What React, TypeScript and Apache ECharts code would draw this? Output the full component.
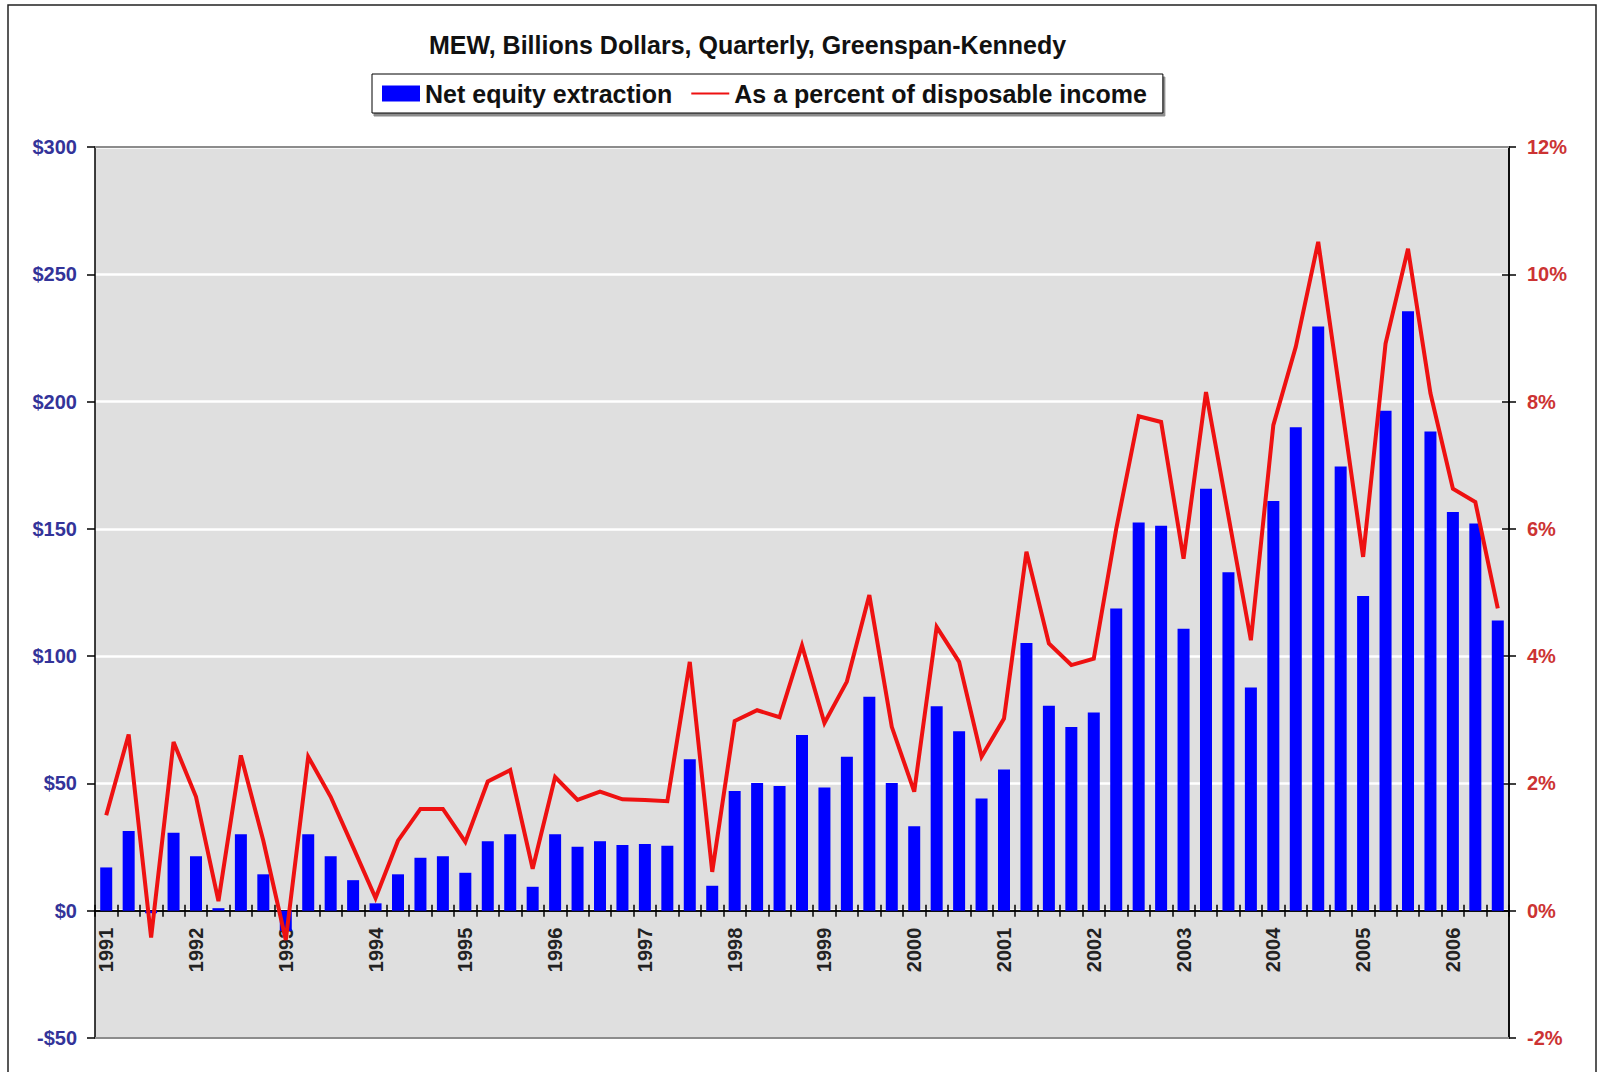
import React, { useEffect, useRef } from 'react';
import * as echarts from 'echarts';

// ---- data ----
const years = ['1991', '1992', '1993', '1994', '1995', '1996', '1997', '1998', '1999', '2000', '2001', '2002', '2003', '2004', '2005', '2006'];
const quarters = ['Q1', 'Q2', 'Q3', 'Q4'];
const quarterCount = 63; // 1991 Q1 .. 2006 Q3
const categories = years.flatMap((y) => quarters.map((q) => `${y} ${q}`)).slice(0, quarterCount);

// Net equity extraction, billions of dollars (quarterly)
const netEquityExtraction = [
  17, 31.3, -1, 30.6,
  21.4, 1, 30, 14.3,
  -8, 30, 21.4, 12,
  2.9, 14.3, 20.8, 21.4,
  14.9, 27.3, 30, 9.4,
  30, 25.1, 27.3, 25.8,
  26.2, 25.5, 59.5, 9.8,
  47, 50.2, 49, 69,
  48.4, 60.5, 84, 50.2,
  33.2, 80.3, 70.5, 44.1,
  55.5, 105.2, 80.5, 72.2,
  77.9, 118.7, 152.5, 151.2,
  110.8, 165.8, 133, 87.7,
  160.9, 189.9, 229.5, 174.5,
  123.6, 196.4, 235.5, 188.2,
  156.6, 152.1, 114,
];

// As a percent of disposable income
const percentOfDisposableIncome = [
  1.5, 2.77, -0.42, 2.65,
  1.79, 0.15, 2.44, 1.1,
  -0.46, 2.42, 1.79, 1.0,
  0.2, 1.1, 1.6, 1.6,
  1.08, 2.03, 2.21, 0.66,
  2.1, 1.74, 1.87, 1.75,
  1.74, 1.72, 3.91, 0.61,
  2.98, 3.15, 3.04, 4.17,
  2.95, 3.6, 4.96, 2.89,
  1.87, 4.46, 3.91, 2.42,
  3.02, 5.64, 4.2, 3.86,
  3.96, 6.0, 7.77, 7.68,
  5.53, 8.15, 6.2, 4.25,
  7.63, 8.86, 10.51, 8.05,
  5.56, 8.91, 10.4, 8.13,
  6.63, 6.42, 4.75,
];

const dollarAxis = { min: -50, max: 300, interval: 50 };
const percentAxis = { min: -2, max: 12, interval: 2 };

const titleText = 'MEW, Billions Dollars, Quarterly, Greenspan-Kennedy';
const barName = 'Net equity extraction';
const lineName = 'As a percent of disposable income';

const FONT = '"Liberation Sans", Arial, sans-serif';

// layout
const CHART_W = 1606;
const CHART_H = 1072;
const GRID = { left: 95, right: 97, top: 147, bottom: 34 };
const plotHeight = CHART_H - GRID.top - GRID.bottom;
// distance of the value-zero line from the bottom edge of the plot
const zeroFromBottom = (plotHeight * (0 - dollarAxis.min)) / (dollarAxis.max - dollarAxis.min);

export default function App() {
  const ref = useRef<HTMLDivElement>(null);

  useEffect(() => {
    const chart = echarts.init(ref.current!, null, { renderer: 'svg' });
    const axisLineStyle = { color: '#000', width: 1.5 };

    const option: any = {
      animation: false,
      backgroundColor: '#ffffff',
      textStyle: { fontFamily: FONT },
      title: {
        text: titleText,
        left: 429,
        top: 32,
        padding: 0,
        textStyle: { fontFamily: FONT, fontSize: 25, fontWeight: 'bold', color: '#111' },
      },
      legend: {
        left: 372,
        top: 74,
        orient: 'horizontal',
        padding: [7, 16, 7, 10],
        itemGap: 18,
        itemWidth: 38,
        itemHeight: 16,
        borderColor: '#000',
        borderWidth: 1,
        backgroundColor: '#fff',
        shadowColor: 'rgba(0,0,0,0.45)',
        shadowOffsetX: 2,
        shadowOffsetY: 3,
        shadowBlur: 0,
        textStyle: { fontFamily: FONT, fontSize: 25, fontWeight: 'bold', color: '#111' },
        data: [
          { name: barName, icon: 'rect' },
          { name: lineName, itemStyle: { color: 'rgba(0,0,0,0)', borderWidth: 0 } },
        ],
      },
      graphic: [
        {
          type: 'rect',
          silent: true,
          shape: { x: 8, y: 5, width: 1588, height: 1080 },
          style: { fill: 'none', stroke: '#222', lineWidth: 1.5 },
        },
      ],
      grid: {
        ...GRID,
        show: true,
        backgroundColor: '#dfdfdf',
        borderWidth: 0,
        containLabel: false,
        outerBoundsMode: 'none',
      },
      xAxis: [
        {
          type: 'category',
          data: categories,
          position: 'bottom',
          offset: -zeroFromBottom,
          boundaryGap: true,
          axisLine: { show: true, onZero: false, lineStyle: axisLineStyle },
          axisTick: { show: true, interval: 0, alignWithLabel: false, length: 6, lineStyle: axisLineStyle },
          axisLabel: {
            interval: 3,
            rotate: 90,
            margin: 17,
            formatter: (v: string) => v.slice(0, 4),
            fontFamily: FONT,
            fontSize: 20,
            fontWeight: 'bold',
            color: '#222',
          },
          splitLine: { show: false },
        },
        {
          type: 'category',
          data: categories,
          position: 'top',
          offset: -(plotHeight - zeroFromBottom),
          boundaryGap: true,
          axisLine: { show: true, onZero: false, lineStyle: axisLineStyle },
          axisTick: { show: true, interval: 0, alignWithLabel: false, length: 6, lineStyle: axisLineStyle },
          axisLabel: { show: false },
          splitLine: { show: false },
        },
      ],
      yAxis: [
        {
          type: 'value',
          position: 'left',
          ...dollarAxis,
          axisLine: { show: true, onZero: false, lineStyle: axisLineStyle },
          axisTick: { show: true, length: 8, lineStyle: axisLineStyle },
          axisLabel: {
            margin: 18,
            formatter: (v: number) => (v < 0 ? `-$${-v}` : `$${v}`),
            fontFamily: FONT,
            fontSize: 20,
            fontWeight: 'bold',
            color: '#333399',
          },
          splitLine: { show: true, lineStyle: { color: '#ffffff', width: 2.5 } },
        },
        {
          type: 'value',
          position: 'right',
          ...percentAxis,
          axisLine: { show: true, onZero: false, lineStyle: axisLineStyle },
          axisTick: { show: true, length: 7, lineStyle: axisLineStyle },
          axisLabel: {
            margin: 18,
            formatter: (v: number) => `${v}%`,
            fontFamily: FONT,
            fontSize: 20,
            fontWeight: 'bold',
            color: '#cc3333',
          },
          splitLine: { show: false },
        },
        {
          type: 'value',
          position: 'right',
          ...percentAxis,
          axisLine: { show: true, onZero: false, lineStyle: axisLineStyle },
          axisTick: { show: true, inside: true, length: 7, lineStyle: axisLineStyle },
          axisLabel: { show: false },
          splitLine: { show: false },
        },
      ],
      series: [
        {
          name: barName,
          type: 'bar',
          xAxisIndex: 0,
          yAxisIndex: 0,
          data: netEquityExtraction,
          barWidth: 12,
          itemStyle: { color: '#0000ff' },
          markLine: {
            silent: true,
            symbol: ['none', 'none'],
            label: { show: false },
            lineStyle: { color: '#8c8c8c', width: 2, type: 'solid' },
            data: [{ yAxis: dollarAxis.max }, { yAxis: dollarAxis.min }],
          },
        },
        {
          name: lineName,
          type: 'line',
          xAxisIndex: 0,
          yAxisIndex: 1,
          data: percentOfDisposableIncome,
          symbol: 'none',
          showSymbol: false,
          z: 5,
          itemStyle: { color: '#ee1111' },
          lineStyle: { color: '#ee1111', width: 4, join: 'miter' },
        },
      ],
    };

    chart.setOption(option);
    return () => chart.dispose();
  }, []);

  return (
    <div
      ref={ref}
      style={{ position: 'fixed', left: 0, top: 0, width: CHART_W, height: CHART_H, background: '#fff' }}
    />
  );
}
